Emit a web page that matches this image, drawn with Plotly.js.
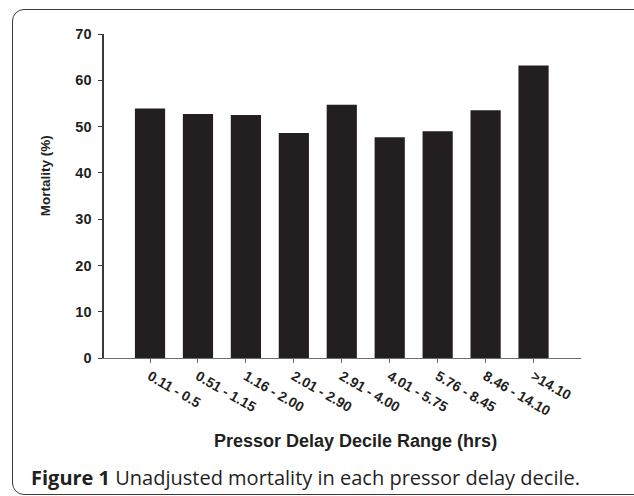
<!DOCTYPE html>
<html>
<head>
<meta charset="utf-8">
<script src="https://cdn.plot.ly/plotly-3.0.1.min.js"></script>
<style>
  html, body { margin: 0; padding: 0; background: #ffffff; }
  #wrap { position: relative; width: 634px; height: 496px; overflow: hidden; }
  #chart { position: absolute; left: 0; top: 0; width: 634px; height: 496px; }
  #frame { position: absolute; left: 12px; top: 9px; width: 640px; height: 484px;
           border: 1.6px solid #3a3a3a; border-radius: 12px; pointer-events: none; }
</style>
</head>
<body>
<div id="wrap">
  <div id="chart"></div>
  <div id="frame"></div>
</div>
<script>
const categories = ["0.11 - 0.5", "0.51 - 1.15", "1.16 - 2.00", "2.01 - 2.90", "2.91 - 4.00",
                    "4.01 - 5.75", "5.76 - 8.45", "8.46 - 14.10", ">14.10"];
const mortality = [53.9, 52.7, 52.5, 48.6, 54.7, 47.7, 49.0, 53.5, 63.2];
const yTicks = [0, 10, 20, 30, 40, 50, 60, 70];

const ink = "#231f20";

const trace = {
  type: "bar",
  x: categories,
  y: mortality,
  width: 0.63,
  marker: { color: ink, line: { width: 0 } },
  hoverinfo: "x+y"
};

const layout = {
  width: 634,
  height: 496,
  margin: { l: 104, r: 53, t: 34, b: 138 },
  paper_bgcolor: "#ffffff",
  plot_bgcolor: "#ffffff",
  showlegend: false,
  font: { family: "Liberation Sans, Arial, sans-serif", color: ink },
  xaxis: {
    type: "category",
    range: [-0.96, 8.99],
    showgrid: false,
    zeroline: false,
    showline: true,
    linecolor: "#6d6d6d",
    linewidth: 1,
    ticks: "outside",
    ticklen: 4,
    tickcolor: "#6d6d6d",
    tickwidth: 1,
    tickangle: 30,
    tickfont: { size: 14, weight: "bold", color: ink },
    automargin: false
  },
  yaxis: {
    range: [0, 70],
    tickvals: yTicks,
    showgrid: false,
    zeroline: false,
    showline: true,
    linecolor: "#3a3a3a",
    linewidth: 1.6,
    ticks: "outside",
    ticklen: 4,
    tickcolor: "#3a3a3a",
    tickwidth: 1,
    ticklabelstandoff: 4,
    tickfont: { size: 14.5, weight: "bold", color: ink },
    automargin: false
  },
  annotations: [
    {
      text: "<b>Mortality (%)</b>",
      xref: "paper", yref: "paper",
      x: -0.121, y: 0.562,
      xanchor: "center", yanchor: "middle",
      textangle: -90,
      showarrow: false,
      font: { size: 13.5, color: ink, family: "Liberation Sans, Arial, sans-serif" }
    },
    {
      text: "<b>Pressor Delay Decile Range (hrs)</b>",
      xref: "paper", yref: "paper",
      x: 0.527, y: -0.257,
      xanchor: "center", yanchor: "middle",
      showarrow: false,
      font: { size: 18, color: ink, family: "Liberation Sans, Arial, sans-serif" }
    },
    {
      text: "<b>Figure 1</b> Unadjusted mortality in each pressor delay decile.",
      xref: "paper", yref: "paper",
      x: -0.157, y: -0.369,
      xanchor: "left", yanchor: "middle",
      showarrow: false,
      font: { size: 20, color: ink, family: "Open Sans, Noto Sans, sans-serif" }
    }
  ]
};

Plotly.newPlot("chart", [trace], layout, { staticPlot: true, displayModeBar: false });
</script>
</body>
</html>
